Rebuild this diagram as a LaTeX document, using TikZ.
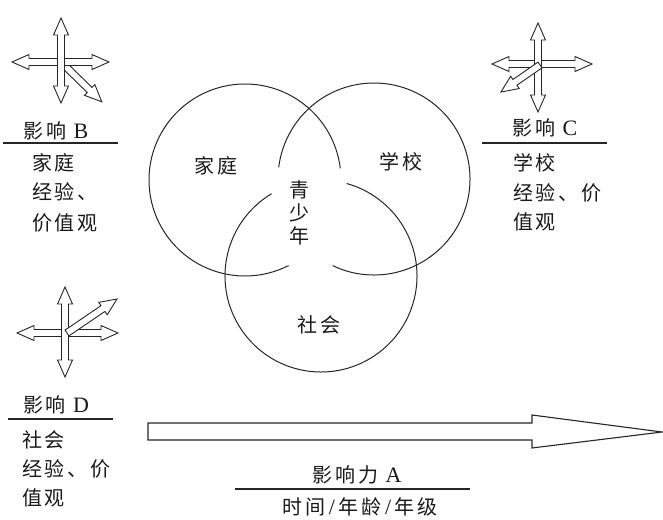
\documentclass[tikz,border=0pt]{standalone}
\usepackage{fontspec}
\setmainfont{Liberation Serif}
\newfontfamily\cjk[LetterSpace=14]{Noto Sans CJK SC}
\newcommand{\latn}[1]{{\rmfamily\fontsize{22}{23}\selectfont #1}}
\newcommand{\dblarr}[3]{%
  \begin{scope}[shift={#1}, rotate=#2]
    \draw[hollow] (-#3,0) -- (-#3+17,7.5) -- (-#3+17,3.5) -- (#3-17,3.5) -- (#3-17,7.5) -- (#3,0)
      -- (#3-17,-7.5) -- (#3-17,-3.5) -- (-#3+17,-3.5) -- (-#3+17,-7.5) -- cycle;
  \end{scope}}
\newcommand{\sglarr}[3]{%
  \begin{scope}[shift={#1}, rotate=#2]
    \draw[hollow] (0,3.5) -- (#3-17,3.5) -- (#3-17,7.5) -- (#3,0) -- (#3-17,-7.5) -- (#3-17,-3.5) -- (0,-3.5) -- cycle;
  \end{scope}}
\begin{document}
\begin{tikzpicture}[x=1pt,y=-1pt,
  lbl/.style={inner sep=0pt, text=black!90, font=\fontsize{20}{23}\selectfont\cjk},
  rulebar/.style={line width=1.1pt, draw=black!85},
  hollow/.style={draw=black!85, fill=white, line width=0.9pt, line join=miter},
  ring/.style={draw=black!85, line width=1pt}]
\useasboundingbox (0,0) rectangle (663,519);

% circles with gaps
\coordinate (cL) at (245,180);
\coordinate (cR) at (374,179);
\coordinate (cB) at (321,276);
\draw[ring] ([shift={(-7:96)}]cL) arc[start angle=-7, end angle=-297, radius=96];
\draw[ring] ([shift={(115.5:96)}]cR) arc[start angle=115.5, end angle=-173, radius=96];
\draw[ring] ([shift={(-121:96)}]cB) arc[start angle=-121, end angle=-434.5, radius=96];

\node[lbl] (jt) at (216,166) {家庭};
\node[lbl] (xx) at (401,162) {学校};
\node[lbl] (sh) at (319,325) {社会};
\node[lbl, align=center] (qsn) at (299,213) {青\\少\\年};

% cluster B
\sglarr{(61,62)}{-44.3}{57}
\dblarr{(60.5,62)}{0}{48.5}
\dblarr{(61,60.5)}{90}{42.5}
% cluster C
\dblarr{(542,64)}{0}{50}
\dblarr{(538,67.5)}{90}{44.5}
\sglarr{(540,65)}{-145.3}{47.5}
% cluster D
\dblarr{(67.5,333)}{0}{50.5}
\dblarr{(65,332)}{90}{45}
\sglarr{(67,333)}{34.2}{60.5}

% block B
\node[lbl] (bT) at (56,131) {影响 \latn{B}};
\draw[rulebar] (3,143) -- (118,143);
\node[lbl, anchor=west] (b1) at (32,163) {家庭};
\node[lbl, anchor=west] (b2) at (32,192) {经验、};
\node[lbl, anchor=west] (b3) at (32,223) {价值观};

% block C
\node[lbl] (cT) at (545,128) {影响 \latn{C}};
\draw[rulebar] (482,143) -- (607,143);
\node[lbl, anchor=west] (c1) at (513,163) {学校};
\node[lbl, anchor=west] (c2) at (513,193) {经验、价};
\node[lbl, anchor=west] (c3) at (513,222) {值观};

% block D
\node[lbl] (dT) at (56,405) {影响 \latn{D}};
\draw[rulebar] (8,419) -- (113,419);
\node[lbl, anchor=west] (d1) at (22,440) {社会};
\node[lbl, anchor=west] (d2) at (22,469) {经验、价};
\node[lbl, anchor=west] (d3) at (22,498) {值观};

% big arrow A
\draw[hollow, line width=1.1pt] (148,423) -- (532,423) -- (532,415) -- (662,432) -- (532,448) -- (532,440) -- (148,440) -- cycle;
\node[lbl] (aT) at (357,475) {影响力 \latn{A}};
\draw[rulebar] (235,489) -- (470,489);
\node[lbl] (a1) at (360,507) {时间\latn{\,/\,}年龄\latn{\,/\,}年级};
\end{tikzpicture}
\end{document}
